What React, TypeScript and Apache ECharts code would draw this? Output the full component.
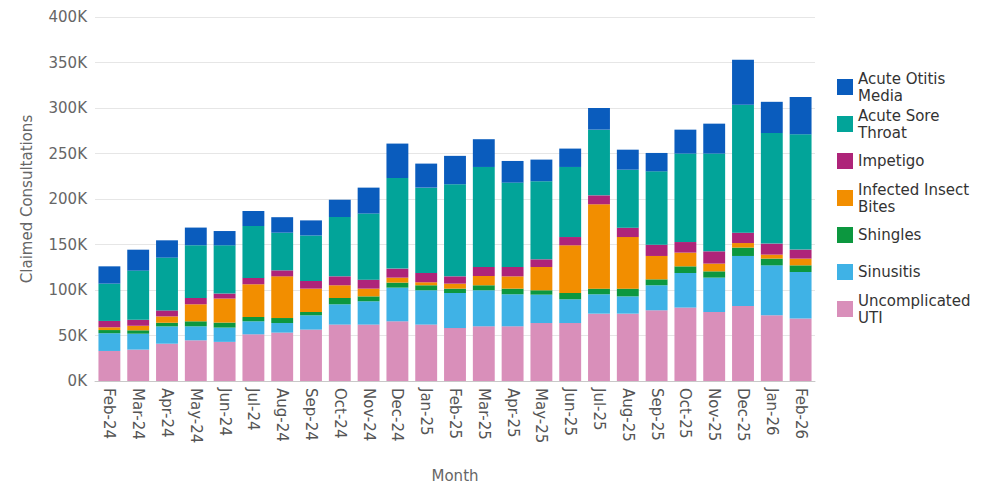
import React, { useEffect, useRef } from "react";
import * as echarts from "echarts";

// Months on the category axis
const months = [
  "Feb-24", "Mar-24", "Apr-24", "May-24", "Jun-24", "Jul-24", "Aug-24", "Sep-24",
  "Oct-24", "Nov-24", "Dec-24", "Jan-25", "Feb-25", "Mar-25", "Apr-25", "May-25",
  "Jun-25", "Jul-25", "Aug-25", "Sep-25", "Oct-25", "Nov-25", "Dec-25", "Jan-26", "Feb-26",
];

// Claimed consultations per condition, in thousands
const uncomplicatedUti = [
  33, 34.5, 41, 44.7, 43, 51.3, 53.2, 56.5, 62, 62, 65.6, 62, 58.2, 60.1, 60.1, 63.7,
  63.7, 74, 74, 77.7, 80.7, 75.8, 82.4, 72.2, 68.6,
];
const sinusitis = [
  19.5, 17.5, 19, 15.4, 15.7, 14.3, 10.5, 15.7, 22.3, 25.6, 37, 37.7, 38.5, 39.6, 35.2, 31.2,
  26.1, 21.3, 19, 27.5, 38, 37.8, 55, 54.9, 51.2,
];
const shingles = [
  3.5, 3.7, 4, 5.5, 5.5, 4.7, 5.5, 3.6, 6.9, 5.4, 5.5, 5.5, 4.8, 5.5, 6.2, 4.8,
  6.9, 6.2, 8.5, 6.5, 7.3, 6.9, 9.2, 7.4, 7.3,
];
const infectedInsectBites = [
  3, 5, 7, 18.7, 26.4, 36, 45.8, 25.7, 14, 8.5, 5.5, 3.3, 5.5, 10.2, 13.5, 25.6,
  52.4, 92.7, 56.7, 25.7, 15.1, 8.5, 5, 4.4, 7.4,
];
const impetigo = [
  7, 6.6, 6.6, 6.9, 5.5, 7, 6.6, 8.4, 9.8, 9.9, 9.9, 10.2, 8, 9.9, 10.3, 8.4,
  9.1, 9.8, 10.3, 12.4, 11.6, 13.5, 11.4, 12.1, 9.9,
];
const acuteSoreThroat = [
  41, 54, 58, 58, 53, 57, 41.4, 50, 65.2, 72.6, 99.6, 93.8, 101.2, 109.9, 92.7, 85.8,
  77, 72.2, 63.7, 80.6, 97.2, 107.4, 140.7, 121.5, 126.7,
];
const acuteOtitisMedia = [
  19, 23, 19, 19.4, 15.7, 16.5, 17, 16.6, 19, 28.5, 37.8, 26.4, 31.2, 30.5, 23.8, 23.8,
  20.2, 23.8, 22, 20.2, 26.3, 32.9, 49.4, 34.3, 41,
];

// Y axis ticks (thousands)
const yTicks = { min: 0, max: 400, interval: 50 };

// Stack order: bottom to top
const seriesDefs = [
  { name: "Uncomplicated UTI", data: uncomplicatedUti, color: "#d98fba" },
  { name: "Sinusitis", data: sinusitis, color: "#3fb2e6" },
  { name: "Shingles", data: shingles, color: "#0c973f" },
  { name: "Infected Insect Bites", data: infectedInsectBites, color: "#f28e00" },
  { name: "Impetigo", data: impetigo, color: "#ae2479" },
  { name: "Acute Sore Throat", data: acuteSoreThroat, color: "#02a499" },
  { name: "Acute Otitis Media", data: acuteOtitisMedia, color: "#0a5cbd" },
];

// Legend order and wrapped labels
const legendOrder = [
  "Acute Otitis Media",
  "Acute Sore Throat",
  "Impetigo",
  "Infected Insect Bites",
  "Shingles",
  "Sinusitis",
  "Uncomplicated UTI",
];
const legendLabels: Record<string, string> = {
  "Acute Otitis Media": "Acute Otitis\nMedia",
  "Acute Sore Throat": "Acute Sore\nThroat",
  "Impetigo": "Impetigo",
  "Infected Insect Bites": "Infected Insect\nBites",
  "Shingles": "Shingles",
  "Sinusitis": "Sinusitis",
  "Uncomplicated UTI": "Uncomplicated\nUTI",
};

const FONT = "DejaVu Sans";

export default function App() {
  const ref = useRef<HTMLDivElement>(null);

  useEffect(() => {
    if (!ref.current) return;
    const chart = echarts.init(ref.current, undefined, { renderer: "svg" });
    chart.setOption({
      animation: false,
      backgroundColor: "#ffffff",
      textStyle: { fontFamily: FONT },
      grid: { left: 87, right: 174, top: 9, bottom: 107, containLabel: false },
      legend: {
        orient: "vertical",
        left: 824,
        top: 57,
        itemWidth: 16,
        itemHeight: 16,
        itemGap: 3,
        icon: "rect",
        selectedMode: false,
        data: legendOrder,
        formatter: (name: string) => legendLabels[name] ?? name,
        textStyle: {
          fontFamily: FONT,
          fontSize: 15,
          color: "#333333",
          lineHeight: 17,
          height: 34,
          verticalAlign: "middle",
        },
      },
      xAxis: {
        type: "category",
        data: months,
        name: "Month",
        nameLocation: "middle",
        nameGap: 87,
        nameTextStyle: { fontFamily: FONT, fontSize: 15, color: "#666666" },
        axisLine: { lineStyle: { color: "#c8c8c8", width: 1 } },
        axisTick: { show: false },
        axisLabel: {
          rotate: -90,
          margin: 7,
          fontFamily: FONT,
          fontSize: 15,
          color: "#555555",
        },
      },
      yAxis: {
        type: "value",
        min: yTicks.min,
        max: yTicks.max,
        interval: yTicks.interval,
        name: "Claimed Consultations",
        nameLocation: "middle",
        nameGap: 61,
        nameTextStyle: { fontFamily: FONT, fontSize: 15, color: "#666666" },
        axisLine: { show: false },
        axisTick: { show: false },
        axisLabel: {
          margin: 8,
          fontFamily: FONT,
          fontSize: 15,
          color: "#666666",
          formatter: (v: number) => `${v}K`,
        },
        splitLine: { lineStyle: { color: "#e6e6e6", width: 1 } },
      },
      series: seriesDefs.map((s) => ({
        name: s.name,
        type: "bar",
        stack: "total",
        data: s.data,
        barWidth: "76%",
        itemStyle: { color: s.color },
        emphasis: { disabled: true },
      })),
    });
    return () => chart.dispose();
  }, []);

  return <div ref={ref} style={{ width: 981, height: 480 }} />;
}
